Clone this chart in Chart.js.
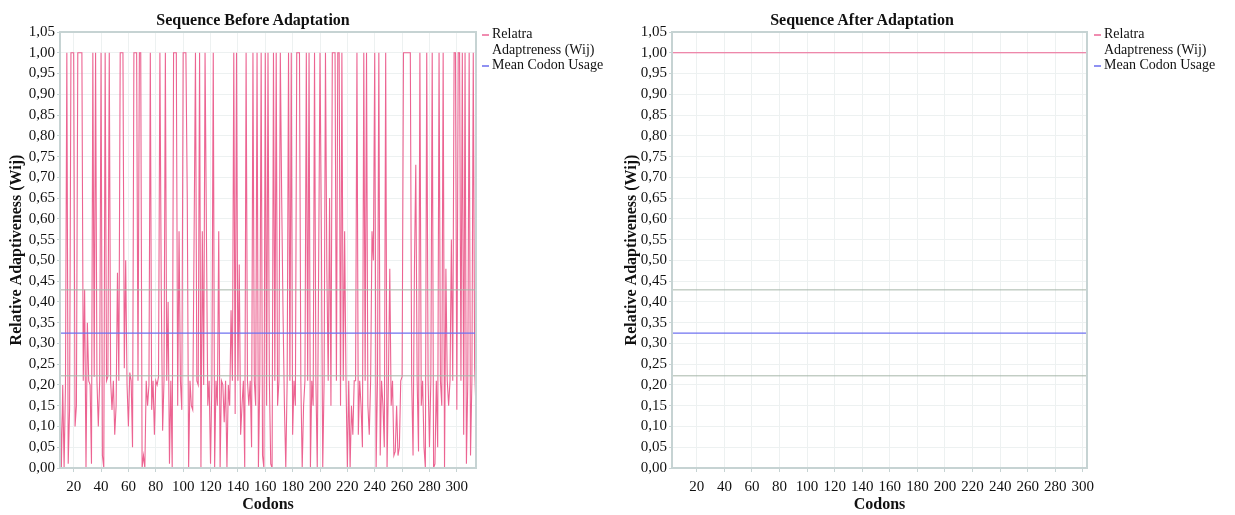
<!DOCTYPE html>
<html>
<head>
<meta charset="utf-8">
<script src="https://cdn.jsdelivr.net/npm/chart.js@4"></script>
<style>
  body { margin: 0; width: 1235px; height: 515px; background: #fff; position: relative; overflow: hidden; font-family: "Liberation Serif", serif; color: #111; }
  canvas { position: absolute; top: 0; }
  .title { position: absolute; top: 10px; width: 320px; text-align: center; font-weight: bold; font-size: 16px; line-height: 20px; }
  .legend { position: absolute; top: 26px; font-size: 14px; line-height: 15.5px; }
  .legend .item { position: relative; padding-left: 10px; }
  .legend .mark { position: absolute; left: 0; top: 8px; width: 7px; height: 1.5px; }
</style>
</head>
<body>
<canvas id="before-chart" width="615" height="515" style="left:0"></canvas>
<canvas id="after-chart" width="620" height="515" style="left:615px"></canvas>

<div class="title" style="left:93px">Sequence Before Adaptation</div>
<div class="title" style="left:702px">Sequence After Adaptation</div>

<div class="legend" style="left:482px">
  <div class="item"><span class="mark" style="background:#f08cb0"></span>Relatra<br>Adaptreness (Wij)</div>
  <div class="item"><span class="mark" style="background:#8f91f2"></span>Mean Codon Usage</div>
</div>
<div class="legend" style="left:1094px">
  <div class="item"><span class="mark" style="background:#f08cb0"></span>Relatra<br>Adaptreness (Wij)</div>
  <div class="item"><span class="mark" style="background:#8f91f2"></span>Mean Codon Usage</div>
</div>

<script>
// Relative adaptiveness per codon before adaptation, codons 10..314
const beforeFirstCodon = 10;
const beforeWij = [
  0.20, 0.00, 0.20, 0.00, 0.20, 1.00, 0.01, 0.14, 1.00, 1.00, // 10
  1.00, 0.10, 0.15, 1.00, 1.00, 1.00, 1.00, 0.21, 0.43, 0.00, // 20
  0.35, 0.21, 0.20, 0.01, 1.00, 0.22, 1.00, 0.21, 0.10, 0.21, // 30
  1.00, 0.03, 0.00, 1.00, 0.21, 0.22, 1.00, 0.21, 0.14, 0.21, // 40
  0.08, 0.15, 0.47, 0.21, 1.00, 1.00, 1.00, 0.24, 0.50, 0.20, // 50
  0.10, 0.23, 0.21, 0.05, 1.00, 1.00, 1.00, 0.21, 1.00, 1.00, // 60
  0.00, 0.03, 0.00, 0.21, 0.15, 0.20, 1.00, 0.14, 0.21, 0.08, // 70
  0.21, 0.20, 0.22, 1.00, 0.43, 0.09, 0.21, 1.00, 0.21, 0.40, // 80
  0.01, 0.21, 0.00, 1.00, 1.00, 1.00, 0.15, 0.57, 0.21, 0.14, // 90
  1.00, 1.00, 1.00, 0.65, 0.00, 0.21, 0.15, 0.14, 0.56, 1.00, // 100
  0.21, 0.20, 1.00, 0.00, 0.57, 0.20, 1.00, 0.57, 0.15, 0.21, // 110
  0.01, 0.21, 1.00, 0.00, 0.21, 0.15, 0.57, 0.00, 0.21, 0.20, // 120
  0.11, 0.21, 0.00, 0.20, 0.15, 0.38, 0.21, 1.00, 0.13, 1.00, // 130
  0.21, 0.49, 0.08, 0.15, 0.21, 0.00, 1.00, 0.21, 0.15, 0.21, // 140
  0.05, 1.00, 0.21, 0.15, 1.00, 0.00, 0.21, 1.00, 0.03, 0.00, // 150
  1.00, 0.15, 1.00, 0.21, 0.01, 0.00, 1.00, 0.21, 1.00, 0.15, // 160
  0.21, 1.00, 0.65, 0.37, 0.15, 0.00, 0.21, 1.00, 0.21, 1.00, // 170
  0.08, 0.21, 0.15, 1.00, 1.00, 1.00, 0.21, 0.00, 0.15, 0.21, // 180
  1.00, 0.21, 1.00, 0.00, 0.21, 0.15, 1.00, 0.21, 0.00, 0.48, // 190
  1.00, 0.57, 0.00, 0.21, 1.00, 0.48, 0.21, 0.65, 0.15, 1.00, // 200
  1.00, 1.00, 0.21, 1.00, 1.00, 0.15, 1.00, 0.21, 0.57, 0.21, // 210
  0.00, 0.21, 0.00, 0.15, 0.08, 0.21, 0.21, 1.00, 0.08, 0.21, // 220
  0.15, 0.05, 1.00, 0.21, 1.00, 0.15, 0.08, 0.21, 0.57, 0.50, // 230
  1.00, 0.00, 0.21, 1.00, 0.03, 0.21, 0.15, 0.05, 1.00, 0.00, // 240
  0.21, 0.48, 0.15, 0.21, 0.03, 0.04, 0.15, 0.03, 0.05, 0.21, // 250
  0.22, 1.00, 1.00, 1.00, 1.00, 1.00, 1.00, 0.21, 0.03, 0.48, // 260
  0.73, 0.21, 0.04, 1.00, 0.15, 0.21, 0.05, 0.00, 1.00, 0.21, // 270
  0.05, 0.21, 1.00, 0.00, 0.01, 0.21, 0.05, 1.00, 0.21, 0.15, // 280
  1.00, 0.00, 0.48, 0.21, 0.15, 0.21, 0.55, 0.21, 1.00, 1.00, // 290
  0.14, 1.00, 1.00, 0.21, 1.00, 0.08, 1.00, 0.01, 0.21, 1.00, // 300
  0.03, 0.21, 1.00, 0.24, 0.14                                // 310
];

// After adaptation every codon sits at 1,00
const afterFirstCodon = 2;
const afterLastCodon = 303;
const afterValue = 1.00;

// Horizontal reference lines (same in both panels)
const meanCodonUsage = 0.325;
const usageBandHigh = 0.429;
const usageBandLow = 0.222;

// Axis ticks
const codonTicks = [20, 40, 60, 80, 100, 120, 140, 160, 180, 200, 220, 240, 260, 280, 300];
const wijTicks = [0, 0.05, 0.10, 0.15, 0.20, 0.25, 0.30, 0.35, 0.40, 0.45, 0.50,
                  0.55, 0.60, 0.65, 0.70, 0.75, 0.80, 0.85, 0.90, 0.95, 1.00, 1.05];

const pink = '#ec6492';
const blue = '#6f72f0';
const band = '#a7b6a9';
const frame = '#c6d3d3';

function toPoints(firstCodon, values) {
  return values.map((v, i) => ({ x: firstCodon + i, y: v }));
}

function flatLine(xMin, xMax, y) {
  return [{ x: xMin, y: y }, { x: xMax, y: y }];
}

const framePlugin = {
  id: 'frame',
  afterDraw(chart) {
    const a = chart.chartArea;
    const ctx = chart.ctx;
    ctx.save();
    ctx.strokeStyle = frame;
    ctx.lineWidth = 2;
    ctx.strokeRect(a.left, a.top, a.right - a.left, a.bottom - a.top);
    ctx.restore();
  }
};

function makeChart(id, points, xMin, xMax, axisWidth, rightPad) {
  return new Chart(document.getElementById(id), {
    type: 'line',
    data: {
      datasets: [
        { data: points, borderColor: pink, borderWidth: 1.1, pointRadius: 0, tension: 0, order: 3 },
        { data: flatLine(xMin, xMax, usageBandHigh), borderColor: band, borderWidth: 1, pointRadius: 0, order: 2 },
        { data: flatLine(xMin, xMax, usageBandLow), borderColor: band, borderWidth: 1, pointRadius: 0, order: 2 },
        { data: flatLine(xMin, xMax, meanCodonUsage), borderColor: blue, borderWidth: 1.3, pointRadius: 0, order: 1 }
      ]
    },
    options: {
      responsive: false,
      animation: false,
      layout: { padding: { top: 32, right: rightPad, left: 0, bottom: 0 } },
      plugins: { legend: { display: false }, tooltip: { enabled: false } },
      scales: {
        x: {
          type: 'linear',
          min: xMin,
          max: xMax,
          afterBuildTicks: (scale) => { scale.ticks = codonTicks.map(v => ({ value: v })); },
          afterFit: (scale) => { scale.height = 47; },
          ticks: { font: { family: 'Liberation Serif', size: 15 }, color: '#111', padding: 6, maxRotation: 0, autoSkip: false },
          grid: { color: '#edf1f1', tickLength: 4, tickColor: '#c6d3d3' },
          border: { color: frame, width: 2 },
          title: { display: true, text: 'Codons', font: { family: 'Liberation Serif', size: 16, weight: 'bold' }, color: '#111', padding: { top: 0, bottom: 1 } }
        },
        y: {
          min: 0,
          max: wijTicks[wijTicks.length - 1],
          afterBuildTicks: (scale) => { scale.ticks = wijTicks.map(v => ({ value: v })); },
          afterFit: (scale) => { scale.width = axisWidth; },
          ticks: {
            autoSkip: false,
            font: { family: 'Liberation Serif', size: 15 },
            color: '#111',
            padding: 2,
            callback: (v) => v.toFixed(2).replace('.', ',')
          },
          grid: { color: '#edf1f1', tickLength: 3, tickColor: '#c6d3d3' },
          border: { color: frame, width: 2 },
          title: { display: true, text: 'Relative Adaptiveness (Wij)', font: { family: 'Liberation Serif', size: 16, weight: 'bold' }, color: '#111', padding: { top: 7, bottom: 0 } }
        }
      }
    },
    plugins: [framePlugin]
  });
}

const afterCodons = [];
for (let c = afterFirstCodon; c <= afterLastCodon; c++) afterCodons.push(c);
const afterPoints = afterCodons.map(c => ({ x: c, y: afterValue }));

makeChart('before-chart', toPoints(beforeFirstCodon, beforeWij), beforeFirstCodon, beforeFirstCodon + beforeWij.length - 1, 60, 139);
makeChart('after-chart', afterPoints, afterFirstCodon, afterLastCodon, 57, 148);
</script>
</body>
</html>
